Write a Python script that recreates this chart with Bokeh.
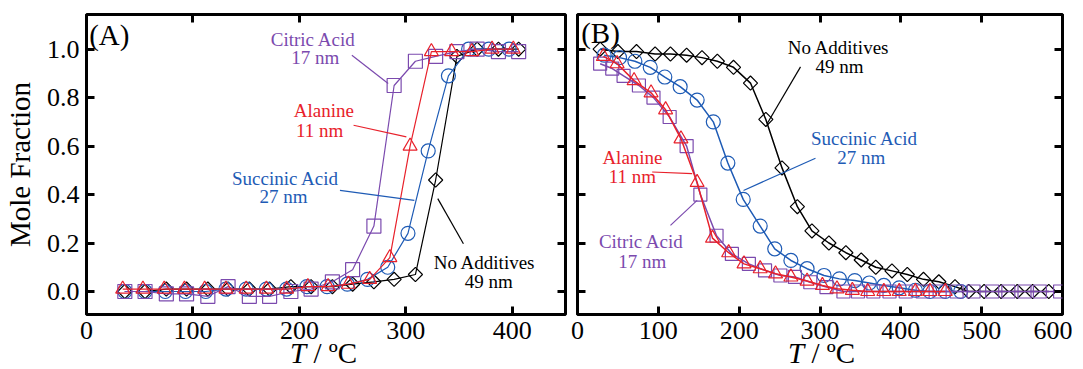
import math
from bokeh.plotting import figure
from bokeh.layouts import row, column
from bokeh.models import (Range1d, LinearAxis, FixedTicker, Label, Div, Spacer,
                          PrintfTickFormatter, CustomJSTickFormatter)
from bokeh.embed import file_html
from bokeh.resources import INLINE

FONT = "Liberation Serif"
PURPLE = "#7B4AAE"
RED = "#E8212B"
BLUE = "#1E5BB5"
BLACK = "#000000"

# ---------------- Panel A data ----------------
A_T_citric = [36, 55, 75, 94, 114, 133, 153, 172, 192, 211, 231, 250, 270, 289, 309, 328, 348, 367, 387, 406]
A_citric = [0.00, 0.00, -0.01, -0.01, -0.02, 0.02, -0.02, -0.02, 0.00, 0.01, 0.04, 0.09, 0.27, 0.85, 0.95, 0.97, 0.99, 1.00, 0.99, 0.99]

A_T_ala = [34, 53, 73, 92, 111, 131, 150, 169, 188, 208, 227, 246, 266, 285, 304, 324, 343, 362, 381, 401]
A_ala = [0.01, 0.01, 0.01, 0.01, 0.01, 0.01, 0.01, 0.01, 0.01, 0.02, 0.02, 0.03, 0.05, 0.14, 0.60, 0.99, 0.99, 0.99, 1.00, 1.00]

A_T_suc = [36, 55, 74, 93, 112, 131, 150, 169, 188, 207, 226, 245, 264, 283, 302, 321, 340, 359, 378, 397]
A_suc = [0.00, 0.00, 0.00, 0.00, 0.00, 0.01, 0.01, 0.01, 0.01, 0.02, 0.02, 0.03, 0.05, 0.10, 0.24, 0.58, 0.89, 1.00, 1.00, 1.00]

A_T_none = [36, 55, 75, 94, 114, 133, 153, 172, 192, 211, 231, 250, 270, 289, 309, 328, 348, 367, 387, 406]
A_none = [0.00, 0.00, 0.01, 0.01, 0.01, 0.01, 0.01, 0.01, 0.02, 0.02, 0.02, 0.03, 0.04, 0.05, 0.07, 0.46, 0.97, 1.00, 1.00, 1.00]

# ---------------- Panel B data ----------------
B_T_none = [28, 50, 73, 96, 115, 135, 154, 173, 193, 214, 233, 253, 272, 290, 311, 332, 351, 369, 389, 408, 428, 447, 467, 484, 503, 524, 544, 563, 583]
B_none = [1.00, 0.99, 0.99, 0.98, 0.98, 0.975, 0.965, 0.95, 0.925, 0.86, 0.71, 0.51, 0.35, 0.25, 0.20, 0.16, 0.13, 0.10, 0.085, 0.07, 0.05, 0.04, 0.02, 0.00, 0.00, 0.00, 0.00, 0.00, 0.00]

B_T_suc = [33, 52, 71, 90, 108, 127, 148, 168, 186, 205, 226, 244, 264, 284, 305, 324, 343, 361, 379, 398, 418, 436, 455, 474]
B_suc = [0.975, 0.965, 0.95, 0.925, 0.885, 0.845, 0.79, 0.70, 0.53, 0.38, 0.27, 0.176, 0.128, 0.094, 0.066, 0.052, 0.045, 0.035, 0.025, 0.015, 0.005, 0.00, 0.00, 0.00]

B_T_ala = [32, 49, 70, 91, 109, 128, 148, 167, 187, 206, 226, 245, 264, 284, 303, 321, 340, 359, 379, 398, 418, 436, 455]
B_ala = [0.97, 0.94, 0.87, 0.82, 0.75, 0.63, 0.45, 0.22, 0.16, 0.114, 0.094, 0.073, 0.06, 0.043, 0.025, 0.011, 0.005, 0.00, 0.00, 0.00, 0.00, 0.00, 0.00]

B_T_cit = [28, 43, 57, 76, 94, 114, 135, 152, 172, 191, 212, 232, 251, 269, 288, 308, 329, 347, 366, 386, 406, 427, 448, 469, 490, 513, 533, 553, 572, 597]
B_cit = [0.94, 0.92, 0.89, 0.85, 0.80, 0.72, 0.60, 0.40, 0.23, 0.155, 0.114, 0.087, 0.066, 0.06, 0.038, 0.018, 0.00, 0.00, 0.00, 0.00, 0.00, 0.00, 0.00, 0.00, 0.00, 0.00, 0.00, 0.00, 0.00, 0.00]

A_XTICKS = [0, 100, 200, 300, 400]
B_XTICKS = [0, 100, 200, 300, 400, 500, 600]
YTICKS = [0.0, 0.2, 0.4, 0.6, 0.8, 1.0]

# annotations: (text lines, color, x centres, y baselines, leader line x0,y0,x1,y1)
A_NOTES = [
    (["Citric Acid", "17 nm"], PURPLE, [213, 215], [1.040, 0.964], (249.3, 0.975, 283.4, 0.858)),
    (["Alanine", "11 nm"], RED, [223, 219], [0.745, 0.666], (250.9, 0.686, 300.5, 0.638)),
    (["Succinic Acid", "27 nm"], BLUE, [187, 185], [0.468, 0.394], (238.1, 0.417, 308.0, 0.376)),
    (["No Additives", "49 nm"], BLACK, [374, 378], [0.121, 0.042], (330.0, 0.383, 354.1, 0.197)),
]
B_NOTES = [
    (["No Additives", "49 nm"], BLACK, [323, 324], [1.005, 0.930], (275.9, 0.927, 234.7, 0.693)),
    (["Succinic Acid", "27 nm"], BLUE, [355, 351], [0.633, 0.551], (294.4, 0.550, 205.4, 0.417)),
    (["Alanine", "11 nm"], RED, [68, 68], [0.551, 0.476], (92.4, 0.493, 141.9, 0.486)),
    (["Citric Acid", "17 nm"], PURPLE, [79, 80], [0.208, 0.125], (115.0, 0.273, 148.0, 0.376)),
]

FIG_H = 351
TITLE_H = 18


def style_axis(ax, ticks, labels=True, fmt=None):
    ax.ticker = FixedTicker(ticks=ticks)
    ax.axis_line_color = None
    ax.major_tick_in = 8
    ax.major_tick_out = 0
    ax.major_tick_line_width = 3
    ax.major_tick_line_color = "black"
    ax.minor_tick_line_color = None
    ax.major_label_text_font = FONT
    ax.major_label_text_color = "black"
    if labels:
        ax.major_label_text_font_size = "26px"
        ax.major_label_standoff = 7
        if fmt is not None:
            ax.formatter = fmt
    else:
        ax.major_label_text_font_size = "1px"
        ax.major_label_standoff = 0
        ax.formatter = CustomJSTickFormatter(code="return ''")


def make_panel(xmax, xticks, width, bl, br, show_y, tag, tag_x, tag_y, notes, series, lw):
    p = figure(width=width, height=FIG_H, x_range=Range1d(0, xmax), y_range=Range1d(-0.095, 1.143),
               output_backend="svg", toolbar_location=None,
               min_border_left=bl, min_border_right=br, min_border_top=14, min_border_bottom=37)
    p.grid.visible = False
    p.outline_line_color = "black"
    p.outline_line_width = 3
    p.outline_line_alpha = 1.0
    p.background_fill_color = "white"
    p.border_fill_color = "white"

    style_axis(p.xaxis[0], xticks)
    if show_y:
        style_axis(p.yaxis[0], YTICKS, fmt=PrintfTickFormatter(format="%.1f"))
        p.yaxis[0].axis_label = "Mole Fraction"
        p.yaxis[0].axis_label_text_font = FONT
        p.yaxis[0].axis_label_text_font_size = "29px"
        p.yaxis[0].axis_label_text_font_style = "normal"
        p.yaxis[0].axis_label_text_color = "black"
        p.yaxis[0].axis_label_standoff = 8
    else:
        style_axis(p.yaxis[0], YTICKS, labels=False)

    top = LinearAxis()
    style_axis(top, xticks, labels=False)
    p.add_layout(top, "above")
    right = LinearAxis()
    style_axis(right, YTICKS, labels=False)
    p.add_layout(right, "right")

    for (xs, ys, color, marker, size, angle) in series:
        p.line(xs, ys, line_color=color, line_width=lw)
        p.scatter(xs, ys, marker=marker, size=size, angle=angle, fill_color=None,
                  line_color=color, line_width=1.2)

    for lines, color, xs, ys, seg in notes:
        for t, x, y in zip(lines, xs, ys):
            p.add_layout(Label(x=x, y=y, text=t, text_font=FONT, text_font_size="19px",
                               text_color=color, text_align="center", text_baseline="alphabetic"))
        p.segment(x0=[seg[0]], y0=[seg[1]], x1=[seg[2]], y1=[seg[3]], line_color=color, line_width=1.2)

    p.add_layout(Label(x=tag_x, y=tag_y, text=tag, text_font=FONT, text_font_size="29px",
                       text_color="black", text_align="left", text_baseline="alphabetic"))
    return p


def x_title():
    html = ('<div style="font-family:\'Liberation Serif\'; font-size:29px; line-height:18px; '
            'color:#000; white-space:nowrap; position:relative; top:-7px; left:0px;">'
            '<i>T</i> / ºC</div>')
    return Div(text=html, width=120, height=TITLE_H, margin=0,
               styles={"overflow": "visible"})


D = math.pi / 4
series_A = [
    (A_T_none, A_none, BLACK, "square", 10, D),
    (A_T_suc, A_suc, BLUE, "circle", 14, 0),
    (A_T_citric, A_citric, PURPLE, "square", 14, 0),
    (A_T_ala, A_ala, RED, "triangle", 14, 0),
]
series_B = [
    (B_T_none, B_none, BLACK, "square", 10, D),
    (B_T_suc, B_suc, BLUE, "circle", 14, 0),
    (B_T_cit, B_cit, PURPLE, "square", 13, 0),
    (B_T_ala, B_ala, RED, "triangle", 14, 0),
]

pA = make_panel(450, A_XTICKS, 570, 82, 5, True, "(A)", 2.5, 1.06, A_NOTES, series_A, 1.2)
pB = make_panel(600, B_XTICKS, 502, 7, 10, False, "(B)", 4.5, 1.065, B_NOTES, series_B, 1.5)

titles = row(Spacer(width=290, height=TITLE_H), x_title(),
             Spacer(width=378, height=TITLE_H), x_title())
layout = column(row(pA, pB), titles)
open("out.html", "w").write(file_html(layout, INLINE))
